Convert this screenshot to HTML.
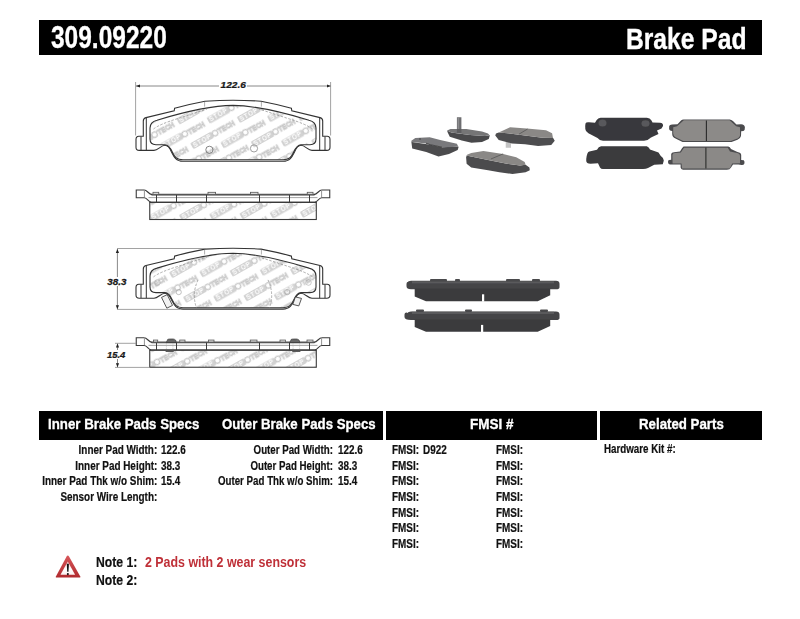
<!DOCTYPE html>
<html><head><meta charset="utf-8">
<style>
html,body{margin:0;padding:0;background:#fff;}
body{width:800px;height:619px;position:relative;overflow:hidden;font-family:"Liberation Sans",sans-serif;font-weight:bold;}
.bar{position:absolute;background:#000;}
.t{position:absolute;white-space:nowrap;line-height:1;transform-origin:0 0;}
.w{color:#fff;-webkit-text-stroke:0.35px #fff;}
.k{color:#111;-webkit-text-stroke:0.2px #111;}
.r{text-align:right;transform-origin:100% 0;}
</style></head><body>
<!--DRAW--><svg id="svgdraw" style="position:absolute;left:0;top:0" width="800" height="619">
<defs>
<g id="logo">
<rect x="-11.9" y="-3.45" width="23.8" height="6.9" rx="1.4" fill="#d2d2d2"/>
<text x="0" y="2.3" font-size="6.6" font-weight="bold" fill="#fff" text-anchor="middle" font-family="Liberation Sans" letter-spacing="0.6">STOP</text>
<circle cx="14.8" cy="0" r="2.7" fill="#fff" stroke="#c8c8c8" stroke-width="1.2"/>
<text x="18.4" y="2.5" font-size="6.8" font-weight="bold" fill="#fff" stroke="#c6c6c6" stroke-width="0.75" font-family="Liberation Sans">TECH</text>
</g>
<pattern id="wm1" patternUnits="userSpaceOnUse" width="53.4" height="28.34" patternTransform="translate(218.5 115) rotate(-29.4)"><use href="#logo" x="0" y="0"/><use href="#logo" x="53.4" y="0"/><use href="#logo" x="-53.4" y="0"/><use href="#logo" x="26.7" y="14.17"/><use href="#logo" x="-26.7" y="14.17"/><use href="#logo" x="80.1" y="14.17"/><use href="#logo" x="0" y="28.34"/><use href="#logo" x="53.4" y="28.34"/><use href="#logo" x="-53.4" y="28.34"/><use href="#logo" x="26.7" y="-14.17"/><use href="#logo" x="-26.7" y="-14.17"/></pattern>
<pattern id="wm3" patternUnits="userSpaceOnUse" width="53.4" height="28.34" patternTransform="translate(211.25 268.75) rotate(-29.4)"><use href="#logo" x="0" y="0"/><use href="#logo" x="53.4" y="0"/><use href="#logo" x="-53.4" y="0"/><use href="#logo" x="26.7" y="14.17"/><use href="#logo" x="-26.7" y="14.17"/><use href="#logo" x="80.1" y="14.17"/><use href="#logo" x="0" y="28.34"/><use href="#logo" x="53.4" y="28.34"/><use href="#logo" x="-53.4" y="28.34"/><use href="#logo" x="26.7" y="-14.17"/><use href="#logo" x="-26.7" y="-14.17"/></pattern>
<pattern id="wm2" patternUnits="userSpaceOnUse" width="53.4" height="28.34" patternTransform="translate(160.7 213) rotate(-29.4)"><use href="#logo" x="0" y="0"/><use href="#logo" x="53.4" y="0"/><use href="#logo" x="-53.4" y="0"/><use href="#logo" x="26.7" y="14.17"/><use href="#logo" x="-26.7" y="14.17"/><use href="#logo" x="80.1" y="14.17"/><use href="#logo" x="0" y="28.34"/><use href="#logo" x="53.4" y="28.34"/><use href="#logo" x="-53.4" y="28.34"/><use href="#logo" x="26.7" y="-14.17"/><use href="#logo" x="-26.7" y="-14.17"/></pattern>
<pattern id="wm4" patternUnits="userSpaceOnUse" width="53.4" height="28.34" patternTransform="translate(144.1 369.3) rotate(-29.4)"><use href="#logo" x="0" y="0"/><use href="#logo" x="53.4" y="0"/><use href="#logo" x="-53.4" y="0"/><use href="#logo" x="26.7" y="14.17"/><use href="#logo" x="-26.7" y="14.17"/><use href="#logo" x="80.1" y="14.17"/><use href="#logo" x="0" y="28.34"/><use href="#logo" x="53.4" y="28.34"/><use href="#logo" x="-53.4" y="28.34"/><use href="#logo" x="26.7" y="-14.17"/><use href="#logo" x="-26.7" y="-14.17"/></pattern>
<marker id="ah" viewBox="0 0 10 10" refX="10" refY="5" markerWidth="5" markerHeight="5" orient="auto-start-reverse"><path d="M0 1 L10 5 L0 9 Z" fill="#222"/></marker>
</defs>
<path d="M 233 100.3 Q 220 100.3 205 101.2 Q 190 104 174.6 108.2 L 174.2 110.8 L 146 117.6 Q 143.3 118.3 143.3 121 L 143.3 136.3 L 138.8 136.3 Q 136 136.3 136 139.5 L 136 147.2 Q 136 150.4 139.2 150.4 L 154 150.4 C 158 150.4 161 145.3 165 145.3 C 168 145.3 169.5 147.5 171.5 152 C 174 157 176 161.2 183 161.2 L 233 161.2 L 283 161.2 C 290 161.2 292 157 294.5 152 C 296.5 147.5 298 145.3 301 145.3 C 305 145.3 308 150.4 312 150.4 L 326.8 150.4 Q 330 150.4 330 147.2 L 330 139.5 Q 330 136.3 327.2 136.3 L 322.7 136.3 L 322.7 121 Q 322.7 118.3 320 117.6 L 291.8 110.8 L 291.4 108.2 Q 276 104 261 101.2 Q 246 100.3 233 100.3" fill="#fff" stroke="#333" stroke-width="1.1"/>
<path d="M 233 105.4 Q 205 105.6 157 120.2 Q 150 122 150 128 L 150 139 Q 150 144.7 156 144.7 L 165 144.7 C 168.5 144.7 170.3 147.5 172.3 152 C 174.5 157 176.5 159.8 183 159.8 L 233 159.8 L 283 159.8 C 289.5 159.8 291.5 157 293.7 152 C 295.7 147.5 297.5 144.7 301 144.7 L 310 144.7 Q 316 144.7 316 139 L 316 128 Q 316 122 309 120.2 Q 261 105.6 233 105.4" fill="url(#wm1)" stroke="#333" stroke-width="1.1"/>
<path d="M 141 136.6 V 150.2 M 146.3 117.8 V 150.2 M 325 136.6 V 150.2 M 319.7 117.8 V 150.2" stroke="#333" stroke-width="1"/>
<path d="M153.5 129 Q160 124 178 118.5 L207 109 M312.5 129 Q306 124 288 118.5 L259 109" fill="none" stroke="#8a8a8a" stroke-width="0.7" stroke-dasharray="2.5 1.5"/>
<path d="M204.6 101.6 V106.6 M261.4 101.6 V106.6" stroke="#777" stroke-width="0.6"/>
<circle cx="209.4" cy="149.8" r="3.6" fill="none" stroke="#666" stroke-width="0.8"/>
<circle cx="254" cy="148.4" r="3.6" fill="none" stroke="#888" stroke-width="0.8"/>
<rect x="149.75" y="202.3" width="166.55" height="17.2" fill="url(#wm2)" stroke="#3a3a3a" stroke-width="1.1"/>
<path d="M152 194.8 H314 M148.5 197.6 H317.5" stroke="#9a9a9a" stroke-width="0.9" fill="none"/>
<path d="M151.5 194.6 H314.5" stroke="#555" stroke-width="1.8" fill="none"/>
<path d="M144.4 190 H136.25 V197.75 H144.4 C147 198 148.5 201.5 151 202.3" fill="none" stroke="#3a3a3a" stroke-width="1.1"/>
<path d="M144.4 190 C147 190 148.5 194.2 152 194.6" fill="none" stroke="#3a3a3a" stroke-width="1.1"/>
<path d="M144.4 190.5 V197.5" stroke="#777" stroke-width="0.8"/>
<path d="M321.6 190 H329.75 V197.75 H321.6 C319 198 317.5 201.5 315 202.3" fill="none" stroke="#3a3a3a" stroke-width="1.1"/>
<path d="M321.6 190 C319 190 317.5 194.2 314 194.6" fill="none" stroke="#3a3a3a" stroke-width="1.1"/>
<path d="M321.6 190.5 V197.5" stroke="#777" stroke-width="0.8"/>
<path d="M149.75 202.3 H316.3" stroke="#3a3a3a" stroke-width="1.2"/>
<path d="M156.5 195 V202.3" stroke="#3a3a3a" stroke-width="1"/>
<path d="M176.5 195 V202.3" stroke="#3a3a3a" stroke-width="1"/>
<path d="M206.5 195 V202.3" stroke="#3a3a3a" stroke-width="1"/>
<path d="M259.5 195 V202.3" stroke="#3a3a3a" stroke-width="1"/>
<path d="M289.5 195 V202.3" stroke="#3a3a3a" stroke-width="1"/>
<path d="M309.5 195 V202.3" stroke="#3a3a3a" stroke-width="1"/>
<rect x="153" y="192.3" width="5.75" height="2" fill="#e6e6e6" stroke="#555" stroke-width="0.8"/>
<rect x="208" y="192.3" width="7.6" height="2" fill="#e6e6e6" stroke="#555" stroke-width="0.8"/>
<rect x="250.4" y="192.3" width="7.6" height="2" fill="#e6e6e6" stroke="#555" stroke-width="0.8"/>
<rect x="307.25" y="192.3" width="5.75" height="2" fill="#e6e6e6" stroke="#555" stroke-width="0.8"/>
<path d="M 233 248.2 Q 220 248.2 205 249.1 Q 190 251.9 174.6 256.1 L 174.2 258.7 L 146 265.5 Q 143.3 266.2 143.3 268.9 L 143.3 284.2 L 138.8 284.2 Q 136 284.2 136 287.4 L 136 295.1 Q 136 298.3 139.2 298.3 L 154 298.3 C 158 298.3 161 293.2 165 293.2 C 168 293.2 169.5 295.4 171.5 299.9 C 174 304.9 176 309.1 183 309.1 L 233 309.1 L 283 309.1 C 290 309.1 292 304.9 294.5 299.9 C 296.5 295.4 298 293.2 301 293.2 C 305 293.2 308 298.3 312 298.3 L 326.8 298.3 Q 330 298.3 330 295.1 L 330 287.4 Q 330 284.2 327.2 284.2 L 322.7 284.2 L 322.7 268.9 Q 322.7 266.2 320 265.5 L 291.8 258.7 L 291.4 256.1 Q 276 251.9 261 249.1 Q 246 248.2 233 248.2" fill="#fff" stroke="#333" stroke-width="1.1"/>
<path d="M 233 253.3 Q 205 253.5 157 268.1 Q 150 269.9 150 275.9 L 150 286.9 Q 150 292.6 156 292.6 L 165 292.6 C 168.5 292.6 170.3 295.4 172.3 299.9 C 174.5 304.9 176.5 307.7 183 307.7 L 233 307.7 L 283 307.7 C 289.5 307.7 291.5 304.9 293.7 299.9 C 295.7 295.4 297.5 292.6 301 292.6 L 310 292.6 Q 316 292.6 316 286.9 L 316 275.9 Q 316 269.9 309 268.1 Q 261 253.5 233 253.3" fill="url(#wm3)" stroke="#333" stroke-width="1.1"/>
<path d="M 141 284.5 V 298.1 M 146.3 265.7 V 298.1 M 325 284.5 V 298.1 M 319.7 265.7 V 298.1" stroke="#333" stroke-width="1"/>
<path d="M153.5 276.9 Q160 271.9 178 266.4 L207 256.9 M312.5 276.9 Q306 271.9 288 266.4 L259 256.9" fill="none" stroke="#8a8a8a" stroke-width="0.7" stroke-dasharray="2.5 1.5"/>
<path d="M204.6 249.5 V254.5 M261.4 249.5 V254.5" stroke="#777" stroke-width="0.6"/>
<path d="M161.5 297.4 L167.2 294.6 L172.5 305.4 L166.8 308.2 Z" fill="#f2f2f2" stroke="#444" stroke-width="0.9"/>
<path d="M295.4 296.9 L301.5 298.4 L298.8 305.9 L292.8 304.4 Z" fill="#f2f2f2" stroke="#444" stroke-width="0.9"/>
<path d="M198 279.9 Q191.5 293.9 196.5 307.9 M268 279.9 Q274.5 293.9 269.5 307.9" fill="none" stroke="#8a8a8a" stroke-width="0.7" stroke-dasharray="2.5 1.5"/>
<circle cx="178.75" cy="292.1" r="2.6" fill="none" stroke="#999" stroke-width="0.6"/><circle cx="157.5" cy="282.5" r="2.8" fill="none" stroke="#aaa" stroke-width="0.6"/>
<circle cx="287.25" cy="292.1" r="2.6" fill="none" stroke="#999" stroke-width="0.6"/><circle cx="308.5" cy="282.5" r="2.8" fill="none" stroke="#aaa" stroke-width="0.6"/>
<rect x="149.75" y="350.05" width="166.55" height="17.2" fill="url(#wm4)" stroke="#3a3a3a" stroke-width="1.1"/>
<path d="M152 342.55 H314 M148.5 345.35 H317.5" stroke="#9a9a9a" stroke-width="0.9" fill="none"/>
<path d="M151.5 342.35 H314.5" stroke="#555" stroke-width="1.8" fill="none"/>
<path d="M144.4 337.75 H136.25 V345.5 H144.4 C147 345.75 148.5 349.25 151 350.05" fill="none" stroke="#3a3a3a" stroke-width="1.1"/>
<path d="M144.4 337.75 C147 337.75 148.5 341.95 152 342.35" fill="none" stroke="#3a3a3a" stroke-width="1.1"/>
<path d="M144.4 338.25 V345.25" stroke="#777" stroke-width="0.8"/>
<path d="M321.6 337.75 H329.75 V345.5 H321.6 C319 345.75 317.5 349.25 315 350.05" fill="none" stroke="#3a3a3a" stroke-width="1.1"/>
<path d="M321.6 337.75 C319 337.75 317.5 341.95 314 342.35" fill="none" stroke="#3a3a3a" stroke-width="1.1"/>
<path d="M321.6 338.25 V345.25" stroke="#777" stroke-width="0.8"/>
<path d="M149.75 350.05 H316.3" stroke="#3a3a3a" stroke-width="1.2"/>
<path d="M156.5 342.75 V350.05" stroke="#3a3a3a" stroke-width="1"/>
<path d="M176.5 342.75 V350.05" stroke="#3a3a3a" stroke-width="1"/>
<path d="M206.5 342.75 V350.05" stroke="#3a3a3a" stroke-width="1"/>
<path d="M259.5 342.75 V350.05" stroke="#3a3a3a" stroke-width="1"/>
<path d="M289.5 342.75 V350.05" stroke="#3a3a3a" stroke-width="1"/>
<path d="M309.5 342.75 V350.05" stroke="#3a3a3a" stroke-width="1"/>
<rect x="153.5" y="340.05" width="4.2" height="2" fill="#e6e6e6" stroke="#555" stroke-width="0.8"/>
<rect x="179.75" y="340.05" width="5.25" height="2" fill="#e6e6e6" stroke="#555" stroke-width="0.8"/>
<rect x="208.5" y="340.05" width="5.5" height="2" fill="#e6e6e6" stroke="#555" stroke-width="0.8"/>
<rect x="250.25" y="340.05" width="6.75" height="2" fill="#e6e6e6" stroke="#555" stroke-width="0.8"/>
<rect x="280" y="340.05" width="5.5" height="2" fill="#e6e6e6" stroke="#555" stroke-width="0.8"/>
<rect x="307" y="340.05" width="6" height="2" fill="#e6e6e6" stroke="#555" stroke-width="0.8"/>
<path d="M166.25 342.55 L167.75 339.35 Q168.75 338.95 170.25 338.95 L173.25 338.95 Q174.75 339.15 175.75 340.35 L176.25 342.55 Z" fill="#666" stroke="#333" stroke-width="0.6"/>
<rect x="165.6" y="350.35" width="8.15" height="1.6" fill="#555"/>
<path d="M166.4 343.25 V349.75 M172.95 343.25 V349.75" stroke="#aaa" stroke-width="0.6" stroke-dasharray="1.2 1"/>
<path d="M289.75 342.55 L291.25 339.35 Q292.25 338.95 293.75 338.95 L296.75 338.95 Q298.25 339.15 299.25 340.35 L299.75 342.55 Z" fill="#666" stroke="#333" stroke-width="0.6"/>
<rect x="292.25" y="350.35" width="8.15" height="1.6" fill="#555"/>
<path d="M293.05 343.25 V349.75 M299.6 343.25 V349.75" stroke="#aaa" stroke-width="0.6" stroke-dasharray="1.2 1"/>

<g stroke="#8a8a8a" stroke-width="0.8" fill="none">
<path d="M135.6 82 V135.5 M330.6 82 V135.5"/>
<path d="M117 248.5 H206 M117 309.4 H180"/>
<path d="M115 343.3 H136 M115 367.4 H150"/>
</g>
<g stroke="#6a6a6a" stroke-width="0.8" fill="none">
<path d="M136 86 H219" marker-start="url(#ah)"/>
<path d="M247 86 H330.6" marker-end="url(#ah)"/>
<path d="M117.4 249 V277" marker-start="url(#ah)"/>
<path d="M117.4 286 V309.2" marker-end="url(#ah)"/>
<path d="M117.5 343.5 V350" marker-start="url(#ah)"/>
<path d="M117.5 359 V367.2" marker-end="url(#ah)"/>
</g>
<g font-family="Liberation Sans" font-weight="bold" font-style="italic" fill="#1a1a1a" stroke="#1a1a1a" stroke-width="0.25">
<text x="0" y="0" font-size="8.4" transform="translate(220.6 87.9) scale(1.2 1)">122.6</text>
<text x="0" y="0" font-size="8.6" transform="translate(107.3 284.5) scale(1.14 1)">38.3</text>
<text x="0" y="0" font-size="8.4" transform="translate(107 357.6) scale(1.12 1)">15.4</text>
</g>

</svg><!--/DRAW-->
<!--PHOTO--><svg id="svgphoto" style="position:absolute;left:0;top:0" width="800" height="619">
<defs><filter id="soft" x="-5%" y="-5%" width="110%" height="110%"><feGaussianBlur stdDeviation="0.45"/></filter></defs><g filter="url(#soft)"><path d="M408 282.3 Q408 280.8 411 280.8 L556 280.8 Q559.5 280.8 559.5 283.8 L559.5 287.3 Q559.5 289.3 556 289.3 L411 289.3 Q406.5 289.3 406.5 286.3 L406.5 283.8 Q406.5 281.8 408.5 281.8 Z" fill="#444446"/>
<rect x="412" y="281.2" width="142" height="2.2" fill="#5a5a5c"/>
<path d="M414.7 288.8 L550.2 288.8 L550.2 295.3 L537.7 301.2 L426 301.2 L414.7 296.5 Z" fill="#3b3b3d"/>
<rect x="482" y="294.3" width="2.2" height="7.399999999999977" fill="#fff"/>
<rect x="430" y="279.0" width="17" height="2.4" rx="1" fill="#4a4a4c"/>
<rect x="455" y="279.0" width="5" height="2.4" rx="1" fill="#4a4a4c"/>
<rect x="506" y="279.0" width="14" height="2.4" rx="1" fill="#4a4a4c"/>
<rect x="532" y="279.0" width="8" height="2.4" rx="1" fill="#4a4a4c"/>
<path d="M408 312.90000000000003 Q408 311.40000000000003 411 311.40000000000003 L556 311.40000000000003 Q559.5 311.40000000000003 559.5 314.40000000000003 L559.5 317.90000000000003 Q559.5 319.90000000000003 556 319.90000000000003 L411 319.90000000000003 Q404.5 319.90000000000003 404.5 316.90000000000003 L404.5 314.40000000000003 Q404.5 312.40000000000003 406.5 312.40000000000003 Z" fill="#444446"/>
<rect x="412" y="311.8" width="142" height="2.2" fill="#5a5a5c"/>
<path d="M414.7 319.40000000000003 L550.2 319.40000000000003 L550.2 325.90000000000003 L537.7 331.8 L426 331.8 L414.7 327.1 Z" fill="#3b3b3d"/>
<rect x="481" y="324.90000000000003" width="2.2" height="7.399999999999977" fill="#fff"/>
<rect x="416" y="309.6" width="8" height="2.4" rx="1" fill="#4a4a4c"/>
<rect x="465" y="309.6" width="7" height="2.4" rx="1" fill="#4a4a4c"/>
<rect x="540" y="309.6" width="8" height="2.4" rx="1" fill="#4a4a4c"/>
<path d="M600.6 117.8 L646.8 117.8 Q650 118 651.5 120.5 L652.5 122.5 L660 122.8 Q663.5 123 663 126 L661.5 128.5 L657 130.5 L658.5 134 L651 137.5 Q648 140.7 644 140.7 L603 140.7 Q599.5 140.5 597.5 138 L588.4 133.3 L586 131 Q585 129 585.2 126 L585.5 123.5 Q586 122 589 122.3 L595 122.8 L596.5 120.3 Q598 117.8 600.6 117.8 Z" fill="#39393c"/>
<ellipse cx="602.5" cy="123" rx="4" ry="3.5" fill="#58585b"/><ellipse cx="645.5" cy="123.5" rx="4" ry="3.3" fill="#58585b"/>
<path d="M601.1 146.25 L646.8 146.25 Q649 147 650 149.4 L658.5 152.6 L660.6 155.8 Q663.8 158 663.8 160.6 L662.8 164.3 L654.25 164.85 L648 168 Q646 169.1 643 169.1 L603 169.1 Q601 169 600 167.5 L598 163.25 L590.5 163.8 Q586.25 163.5 586.25 161 L586.25 159 Q587 152 589.4 151.6 L597 149.8 Q598.5 146.5 601.1 146.25 Z" fill="#3a3a3d"/>
<path d="M681 120.6 Q682 119.4 683.6 119.4 L729.8 119.4 Q732 119.6 733.5 121.5 L736.5 124.4 L741 124.3 Q744.9 124.5 744.9 127.5 L744.6 130 Q744 131.3 741.2 131.3 L741 136 Q740.5 138.5 737.5 139.8 L731.5 142 L682.5 142 L675.5 138.5 Q672.2 137 672.2 134 L672.2 131 Q669.1 130.8 669.1 128.5 L669.2 126 Q669.6 124.4 672 124.4 L677.5 124.3 Z" fill="#4b4b4e"/>
<path d="M683.8 120.2 L729.6 120.2 L736.2 126.2 L740 127.2 L740 135.4 Q739.6 137.8 736 139 L730.8 141 L683.2 141 L676 137.6 Q673.2 136 673.2 133.5 L673.2 127.2 L677 126.2 Z" fill="#8c8a88"/>
<path d="M706.4 120.5 L706.4 141" stroke="#2a2a2a" stroke-width="1.1"/>
<path d="M683.6 146.6 L728.2 146.6 Q730 147 731 149 L737.4 152 Q741.2 152.5 741.2 155 L741.2 160 L743.8 160.3 Q744.9 161.5 744.4 163.5 Q743.8 165.2 741.5 165 L738.5 164.5 L733 164.5 L731 167.5 Q730 169.8 727 169.8 L683 169.8 Q681 169.5 680.6 167.5 L680.6 164.6 L671.5 164.6 Q668 164.6 668 162 L668.2 160.5 Q668.8 159.8 671.2 159.8 L671.2 154 Q671.5 152.5 674 152.3 L680 151.6 L682 148.2 Z" fill="#4b4b4e"/>
<path d="M684 147.8 L727.8 147.8 L730 151.6 L737.2 153 Q740 153.5 740 156 L740 163.2 L732.2 163.6 L729.8 168.6 L682 168.6 L681.5 163.6 L672.6 163.4 L672.4 155 Q672.6 153.2 675 153.1 L680.8 152.6 Z" fill="#8b8987"/>
<path d="M705.9 147.6 L705.9 168.4" stroke="#2a2a2a" stroke-width="1.1"/>
<polygon points="411.2,140.5 412.2,148.6 426.2,152.1 438.5,156.5 449,153.9 457.7,149.9 458.6,146.9 458.2,146.4 442,147.3 430.6,144.7 412,142" fill="#4c4c4e"/>
<polygon points="411.4,140.75 415.3,138.1 429.7,137.25 440.2,139.9 456.9,143.8 458.2,146.4 452.5,146.9 442,147.3 430.6,144.7 426.2,143.4 412.2,142.1" fill="#79797b"/>
<path d="M426 143.2 L430 144.6 L442 147.2" stroke="#3e3e40" stroke-width="0.9" fill="none"/><circle cx="420" cy="139" r="1" fill="#555"/>
<rect x="456.9" y="117.25" width="4.5" height="15" fill="#6d6d6f"/><rect x="457.6" y="118" width="1.6" height="13" fill="#8c8c8e"/>
<polygon points="447.2,130.6 447.5,131.9 449.75,136.75 461.75,140.5 471.5,142.75 482,142 488.75,139 489.9,135.25 485,136 470,134.9 451.25,132.6" fill="#4a4a4c"/>
<polygon points="447.1,130.4 450.5,128.9 466.3,128.9 482,131.5 488,133.4 489.5,135.25 485,136 470,134.9 451.25,132.6" fill="#747476"/>
<rect x="456.9" y="129" width="4.5" height="4" fill="#5d5d5f"/>
<rect x="505.75" y="142" width="5.25" height="5.75" fill="#c4c4c4"/>
<polygon points="495.25,135.5 498.75,139.9 511.9,143.4 525,144.25 538.1,146 551.25,145.1 554.75,140.75 553,137.7 542.5,137.7 525,135.5 507.5,133.3 498.75,132.4 496,133.5" fill="#4d4d4f"/>
<polygon points="498.75,132.4 510.1,127.2 526.75,128.5 546,130.25 552.1,133.3 553,138.1 542.5,137.7 525,135.5 507.5,133.3" fill="#8a8886"/>
<path d="M527.6 129 L518.9 134.2" stroke="#555" stroke-width="0.8"/>
<polygon points="466.1,157.2 466.6,163.75 471.25,167.5 488.1,170.3 499.4,172.2 512.5,174 520,173.1 525.6,172.2 529.8,170.3 529.4,167.5 525.6,164.7 520,165.6 506.9,163.75 488.1,160 467.5,155.8 467,154.8" fill="#4b4b4d"/>
<polygon points="467,154.8 471.25,153 483.4,151.1 503.1,153.9 516.25,157.2 524.7,161.9 525.6,164.7 520,165.6 506.9,163.75 488.1,160 467.5,155.8" fill="#8a8886"/>
<path d="M503.1 153.9 L490.9 159" stroke="#555" stroke-width="0.8"/>
</g></svg><!--/PHOTO-->
<div class="bar" style="left:39px;top:20px;width:723px;height:35px"></div>
<div class="t w" id="title" style="left:51px;top:21.8px;font-size:31px;transform:scaleX(0.79)">309.09220</div>
<div class="t w" id="bp" style="left:625.6px;top:23.9px;font-size:29.5px;transform:scaleX(0.835)">Brake Pad</div>

<div class="bar" style="left:39px;top:411px;width:344px;height:29px"></div>
<div class="bar" style="left:386px;top:411px;width:211px;height:29px"></div>
<div class="bar" style="left:600px;top:411px;width:162px;height:29px"></div>
<div class="t w" id="h1" style="left:48px;top:415.5px;font-size:15.5px;transform:scaleX(0.8565)">Inner Brake Pads Specs</div>
<div class="t w" id="h2" style="left:221.5px;top:415.5px;font-size:15.5px;transform:scaleX(0.8535)">Outer Brake Pads Specs</div>
<div class="t w" id="h3" style="left:470px;top:415.5px;font-size:15.5px;transform:scaleX(0.871)">FMSI #</div>
<div class="t w" id="h4" style="left:638.5px;top:415.5px;font-size:15.5px;transform:scaleX(0.8555)">Related Parts</div>

<div class="t k r" id="li0" style="right:642.6px;top:443.84px;font-size:12px;transform:scaleX(0.826)">Inner Pad Width:</div>
<div class="t k r" id="li1" style="right:642.6px;top:459.64px;font-size:12px;transform:scaleX(0.826)">Inner Pad Height:</div>
<div class="t k r" id="li2" style="right:642.6px;top:475.44px;font-size:12px;transform:scaleX(0.826)">Inner Pad Thk w/o Shim:</div>
<div class="t k r" id="li3" style="right:642.6px;top:491.24px;font-size:12px;transform:scaleX(0.826)">Sensor Wire Length:</div>
<div class="t k" id="vi0" style="left:160.6px;top:443.84px;font-size:12px;transform:scaleX(0.826)">122.6</div>
<div class="t k" id="vi1" style="left:160.6px;top:459.64px;font-size:12px;transform:scaleX(0.826)">38.3</div>
<div class="t k" id="vi2" style="left:160.6px;top:475.44px;font-size:12px;transform:scaleX(0.826)">15.4</div>
<div class="t k r" id="lo0" style="right:466.8px;top:443.84px;font-size:12px;transform:scaleX(0.81)">Outer Pad Width:</div>
<div class="t k r" id="lo1" style="right:466.8px;top:459.64px;font-size:12px;transform:scaleX(0.81)">Outer Pad Height:</div>
<div class="t k r" id="lo2" style="right:466.8px;top:475.44px;font-size:12px;transform:scaleX(0.81)">Outer Pad Thk w/o Shim:</div>
<div class="t k" id="vo0" style="left:338px;top:443.84px;font-size:12px;transform:scaleX(0.826)">122.6</div>
<div class="t k" id="vo1" style="left:338px;top:459.64px;font-size:12px;transform:scaleX(0.826)">38.3</div>
<div class="t k" id="vo2" style="left:338px;top:475.44px;font-size:12px;transform:scaleX(0.826)">15.4</div>
<div class="t k" id="fa0" style="left:391.8px;top:443.84px;font-size:12px;transform:scaleX(0.826)">FMSI:</div>
<div class="t k" id="fb0" style="left:495.8px;top:443.84px;font-size:12px;transform:scaleX(0.826)">FMSI:</div>
<div class="t k" id="fa1" style="left:391.8px;top:459.57px;font-size:12px;transform:scaleX(0.826)">FMSI:</div>
<div class="t k" id="fb1" style="left:495.8px;top:459.57px;font-size:12px;transform:scaleX(0.826)">FMSI:</div>
<div class="t k" id="fa2" style="left:391.8px;top:475.3px;font-size:12px;transform:scaleX(0.826)">FMSI:</div>
<div class="t k" id="fb2" style="left:495.8px;top:475.3px;font-size:12px;transform:scaleX(0.826)">FMSI:</div>
<div class="t k" id="fa3" style="left:391.8px;top:491.03px;font-size:12px;transform:scaleX(0.826)">FMSI:</div>
<div class="t k" id="fb3" style="left:495.8px;top:491.03px;font-size:12px;transform:scaleX(0.826)">FMSI:</div>
<div class="t k" id="fa4" style="left:391.8px;top:506.76px;font-size:12px;transform:scaleX(0.826)">FMSI:</div>
<div class="t k" id="fb4" style="left:495.8px;top:506.76px;font-size:12px;transform:scaleX(0.826)">FMSI:</div>
<div class="t k" id="fa5" style="left:391.8px;top:522.49px;font-size:12px;transform:scaleX(0.826)">FMSI:</div>
<div class="t k" id="fb5" style="left:495.8px;top:522.49px;font-size:12px;transform:scaleX(0.826)">FMSI:</div>
<div class="t k" id="fa6" style="left:391.8px;top:538.22px;font-size:12px;transform:scaleX(0.826)">FMSI:</div>
<div class="t k" id="fb6" style="left:495.8px;top:538.22px;font-size:12px;transform:scaleX(0.826)">FMSI:</div>
<div class="t k" id="d922" style="left:422.6px;top:443.84px;font-size:12px;transform:scaleX(0.826)">D922</div>
<div class="t k" id="hw" style="left:603.6px;top:443.44px;font-size:12px;transform:scaleX(0.814)">Hardware Kit #:</div>
<div class="t k" id="n1" style="left:95.8px;top:554.55px;font-size:14.0px;transform:scaleX(0.87)">Note 1:</div>
<div class="t k" id="n2" style="left:95.8px;top:572.95px;font-size:14.0px;transform:scaleX(0.87)">Note 2:</div>
<div class="t" id="n1t" style="left:144.6px;top:554.55px;font-size:14.0px;color:#bf3038;transform:scaleX(0.885)">2 Pads with 2 wear sensors</div>
<svg id="svgwarn" style="position:absolute;left:0;top:0" width="800" height="619">
<defs><linearGradient id="wg" x1="0" y1="0" x2="0" y2="1"><stop offset="0" stop-color="#f7c9c9"/><stop offset="0.55" stop-color="#fff"/><stop offset="1" stop-color="#fbefef"/></linearGradient>
<linearGradient id="wr" x1="0" y1="0" x2="0" y2="1"><stop offset="0" stop-color="#d8575a"/><stop offset="1" stop-color="#b02a2e"/></linearGradient></defs>
<path d="M67.8 555.6 Q68.4 555.6 69 556.6 L80.3 576.4 Q80.6 577.6 79.5 577.6 L56.5 577.6 Q55.4 577.6 55.9 576.4 L66.6 556.6 Q67.2 555.6 67.8 555.6 Z" fill="url(#wr)"/>
<path d="M67.8 561.6 L75.1 574.8 L60.5 574.8 Z" fill="url(#wg)"/>
<path d="M66.8 563.8 L68.9 563.8 L68.5 571.8 L67.2 571.8 Z" fill="#111"/>
<circle cx="67.85" cy="574.1" r="1.05" fill="#111"/>
</svg>
</body></html>
